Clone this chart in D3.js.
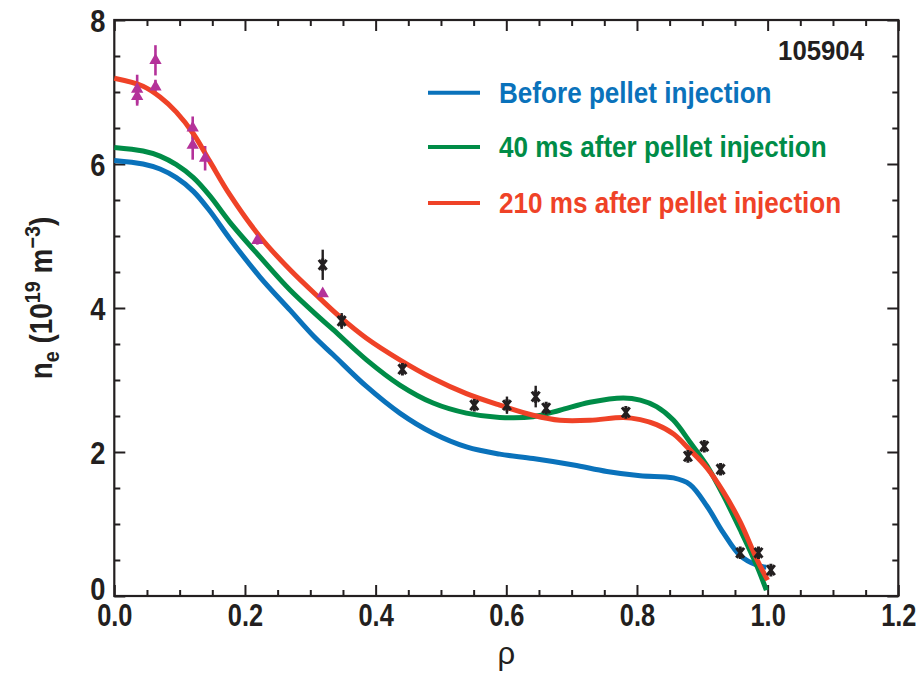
<!DOCTYPE html>
<html>
<head>
<meta charset="utf-8">
<script src="https://cdn.jsdelivr.net/npm/d3@7"></script>
<style>
  html, body { margin: 0; padding: 0; background: #ffffff; }
  svg { display: block; }
  text { font-family: 'Liberation Sans', Arial, Helvetica, sans-serif; }
</style>
</head>
<body>
<svg id="chart" width="918" height="673"></svg>
<script>
// ---- Fitted density profiles, shot 105904 ----
const beforeRho = [0, 0.044, 0.07, 0.095, 0.121, 0.146, 0.177, 0.223, 0.269, 0.306, 0.335, 0.386, 0.437, 0.488, 0.539, 0.59, 0.641, 0.703, 0.754, 0.805, 0.856, 0.881, 0.907, 0.932, 0.958, 0.983, 0.998];
const beforeNe  = [6.05, 6.00, 5.93, 5.81, 5.62, 5.35, 4.96, 4.43, 3.97, 3.60, 3.35, 2.91, 2.54, 2.26, 2.07, 1.97, 1.91, 1.82, 1.73, 1.67, 1.64, 1.55, 1.25, 0.88, 0.56, 0.43, 0.40];

const after40Rho = [0, 0.044, 0.07, 0.095, 0.121, 0.146, 0.177, 0.223, 0.269, 0.315, 0.335, 0.386, 0.437, 0.488, 0.539, 0.59, 0.641, 0.682, 0.728, 0.779, 0.805, 0.83, 0.856, 0.881, 0.907, 0.932, 0.958, 0.983, 0.998];
const after40Ne  = [6.23, 6.18, 6.11, 5.99, 5.81, 5.56, 5.19, 4.71, 4.25, 3.86, 3.70, 3.28, 2.93, 2.68, 2.54, 2.48, 2.49, 2.58, 2.69, 2.75, 2.72, 2.63, 2.44, 2.14, 1.81, 1.40, 0.92, 0.43, 0.08];

const after210Rho = [0, 0.044, 0.07, 0.095, 0.121, 0.146, 0.177, 0.223, 0.269, 0.315, 0.345, 0.386, 0.437, 0.488, 0.539, 0.59, 0.641, 0.682, 0.728, 0.779, 0.805, 0.83, 0.856, 0.881, 0.907, 0.932, 0.958, 0.983, 1.0];
const after210Ne  = [7.19, 7.08, 6.93, 6.72, 6.42, 6.04, 5.57, 4.99, 4.53, 4.13, 3.88, 3.58, 3.28, 3.02, 2.81, 2.65, 2.51, 2.44, 2.44, 2.48, 2.45, 2.38, 2.25, 2.03, 1.78, 1.45, 1.03, 0.52, 0.22];

// ---- Measured points ----
// triangles (magenta) with error bars
const triRho = [0.035, 0.035, 0.063, 0.063, 0.12, 0.12, 0.139, 0.219, 0.319];
const triNe  = [7.04, 6.94, 7.44, 7.07, 6.50, 6.26, 6.08, 4.94, 4.20];
const triErr = [0.20, 0.13, 0.21, 0.10, 0.16, 0.20, 0.17, 0.06, 0.03];
// asterisks (black) with error bars
const starRho = [0.319, 0.348, 0.441, 0.551, 0.601, 0.645, 0.661, 0.783, 0.878, 0.903, 0.928, 0.958, 0.986, 1.005];
const starNe  = [4.60, 3.82, 3.15, 2.65, 2.65, 2.77, 2.61, 2.55, 1.94, 2.08, 1.76, 0.60, 0.60, 0.36];
const starErr = [0.21, 0.11, 0.05, 0.05, 0.12, 0.15, 0.04, 0.04, 0.04, 0.04, 0.04, 0.03, 0.03, 0.03];

// ---- Axis ticks ----
const xMajor = [0, 0.2, 0.4, 0.6, 0.8, 1.0, 1.2];
const xTickLabels = ["0.0", "0.2", "0.4", "0.6", "0.8", "1.0", "1.2"];
const yMajor = [0, 2, 4, 6, 8];
const yTickLabels = ["0", "2", "4", "6", "8"];

const legendLabels = ["Before pellet injection", "40 ms after pellet injection", "210 ms after pellet injection"];
const shotLabel = "105904";

const colors = { before: "#0a72bb", after40: "#008c47", after210: "#ef4227", tri: "#b4329a", star: "#231f20" };

// condensed look for the bold labels
const NARROW = 0.82;

const svg = d3.select("#chart");
const x = d3.scaleLinear().domain([0, 1.2]).range([114.3, 898.3]);
const y = d3.scaleLinear().domain([0, 8]).range([596, 20]);

const xMinor = d3.range(0, 1.2001, 0.05).filter(v => !xMajor.some(m => Math.abs(m - v) < 1e-6));
const yMinor = d3.range(0, 8.001, 0.5).filter(v => !yMajor.some(m => Math.abs(m - v) < 1e-6));

const MAJ = 11, MIN = 6;

function styleAxis(g) {
  g.select(".domain").remove();
  g.selectAll(".tick line").attr("stroke", "#231f20").attr("stroke-width", 2);
}

// bottom axis: labelled majors + minors, ticks pointing inward
const gBottom = svg.append("g").attr("transform", `translate(0,${y(0)})`);
gBottom.call(d3.axisBottom(x).tickValues(xMajor).tickSize(-MAJ).tickFormat((d, i) => xTickLabels[i]).tickPadding(0))
  .call(styleAxis);
gBottom.selectAll(".tick text")
  .attr("y", 0).attr("dy", null)
  .attr("transform", `translate(0,30) scale(${NARROW},1)`)
  .attr("fill", "#231f20").attr("font-size", 31).attr("font-weight", "bold");
svg.append("g").attr("transform", `translate(0,${y(0)})`)
  .call(d3.axisBottom(x).tickValues(xMinor).tickSize(-MIN).tickFormat(""))
  .call(styleAxis);

// top axis
svg.append("g").attr("transform", `translate(0,${y(8)})`)
  .call(d3.axisTop(x).tickValues(xMajor).tickSize(-MAJ).tickFormat("")).call(styleAxis);
svg.append("g").attr("transform", `translate(0,${y(8)})`)
  .call(d3.axisTop(x).tickValues(xMinor).tickSize(-MIN).tickFormat("")).call(styleAxis);

// left axis (the 0 label sits a little high, clear of the 0.0 below it)
const gLeft = svg.append("g").attr("transform", `translate(${x(0)},0)`);
gLeft.call(d3.axisLeft(y).tickValues(yMajor).tickSize(-MAJ).tickFormat((d, i) => yTickLabels[i]))
  .call(styleAxis);
gLeft.selectAll(".tick text")
  .attr("x", 0).attr("dy", "0.36em")
  .attr("transform", d => `translate(-9,${d === 0 ? -8 : 0}) scale(0.88,1)`)
  .attr("fill", "#231f20").attr("font-size", 31).attr("font-weight", "bold");
svg.append("g").attr("transform", `translate(${x(0)},0)`)
  .call(d3.axisLeft(y).tickValues(yMinor).tickSize(-MIN).tickFormat("")).call(styleAxis);

// right axis
svg.append("g").attr("transform", `translate(${x(1.2)},0)`)
  .call(d3.axisRight(y).tickValues(yMajor).tickSize(-MAJ).tickFormat("")).call(styleAxis);
svg.append("g").attr("transform", `translate(${x(1.2)},0)`)
  .call(d3.axisRight(y).tickValues(yMinor).tickSize(-MIN).tickFormat("")).call(styleAxis);

// frame
svg.append("rect")
  .attr("x", x(0)).attr("y", y(8))
  .attr("width", x(1.2) - x(0)).attr("height", y(0) - y(8))
  .attr("fill", "none").attr("stroke", "#231f20").attr("stroke-width", 2.2);

// axis titles
svg.append("text")
  .attr("x", x(0.6)).attr("y", 664)
  .attr("text-anchor", "middle").attr("font-size", 31)
  .attr("fill", "#231f20")
  .text("ρ");

const yTitle = svg.append("text")
  .attr("transform", "translate(52,298) rotate(-90) scale(0.9,1)")
  .attr("text-anchor", "middle").attr("font-size", 31).attr("font-weight", "bold")
  .attr("fill", "#231f20");
yTitle.append("tspan").text("n");
yTitle.append("tspan").attr("font-size", 22).attr("dy", 7).text("e");
yTitle.append("tspan").attr("dy", -7).text(" (10");
yTitle.append("tspan").attr("font-size", 22).attr("dy", -12).text("19");
yTitle.append("tspan").attr("dy", 12).text(" m");
yTitle.append("tspan").attr("font-size", 22).attr("dy", -12).text("−3");
yTitle.append("tspan").attr("dy", 12).text(")");

// ---- profile curves ----
const line = d3.line().x(d => x(d[0])).y(d => y(d[1])).curve(d3.curveCatmullRom.alpha(0.5));
const series = [
  { rho: beforeRho, ne: beforeNe, color: colors.before },
  { rho: after40Rho, ne: after40Ne, color: colors.after40 },
  { rho: after210Rho, ne: after210Ne, color: colors.after210 }
];

// ---- error bars ----
const errG = svg.append("g");
triRho.forEach((r, i) => {
  errG.append("line")
    .attr("x1", x(r)).attr("x2", x(r))
    .attr("y1", y(triNe[i] + triErr[i])).attr("y2", y(triNe[i] - triErr[i]))
    .attr("stroke", colors.tri).attr("stroke-width", 2.6);
});
starRho.forEach((r, i) => {
  errG.append("line")
    .attr("x1", x(r)).attr("x2", x(r))
    .attr("y1", y(starNe[i] + starErr[i])).attr("y2", y(starNe[i] - starErr[i]))
    .attr("stroke", colors.star).attr("stroke-width", 2.4);
});

svg.append("g").selectAll("path")
  .data(series).join("path")
  .attr("d", s => line(s.rho.map((r, i) => [r, s.ne[i]])))
  .attr("fill", "none").attr("stroke", s => s.color)
  .attr("stroke-width", 5).attr("stroke-linejoin", "round");

svg.append("g").selectAll("path")
  .data(triRho.map((r, i) => [r, triNe[i]])).join("path")
  .attr("transform", d => `translate(${x(d[0])},${y(d[1])})`)
  .attr("d", d3.symbol(d3.symbolTriangle, 66)())
  .attr("fill", colors.tri);

// six-armed star marker: vertical stroke plus a steep X
const starSymbol = {
  draw(ctx, size) {
    const r = Math.sqrt(size) / 2;
    const a = 52 * Math.PI / 180;
    const dx = r * Math.cos(a), dy = r * Math.sin(a);
    ctx.moveTo(0, -r); ctx.lineTo(0, r);
    ctx.moveTo(-dx, -dy); ctx.lineTo(dx, dy);
    ctx.moveTo(-dx, dy); ctx.lineTo(dx, -dy);
  }
};
svg.append("g").selectAll("path")
  .data(starRho.map((r, i) => [r, starNe[i]])).join("path")
  .attr("transform", d => `translate(${x(d[0])},${y(d[1])})`)
  .attr("d", d3.symbol(starSymbol, 160)())
  .attr("fill", "none").attr("stroke", colors.star).attr("stroke-width", 3);

// ---- legend ----
const legendY = [92.7, 147, 203];
const legend = svg.append("g");
series.forEach((s, i) => {
  legend.append("line")
    .attr("x1", 428).attr("x2", 480)
    .attr("y1", legendY[i]).attr("y2", legendY[i])
    .attr("stroke", s.color).attr("stroke-width", 4);
  legend.append("text")
    .attr("transform", `translate(499,${legendY[i] + 10}) scale(0.9,1)`)
    .attr("font-size", 29).attr("font-weight", "bold")
    .attr("fill", s.color)
    .text(legendLabels[i]);
});

svg.append("text")
  .attr("transform", "translate(864,60) scale(0.92,1)")
  .attr("text-anchor", "end").attr("font-size", 28).attr("font-weight", "bold")
  .attr("fill", "#231f20")
  .text(shotLabel);
</script>
</body>
</html>
